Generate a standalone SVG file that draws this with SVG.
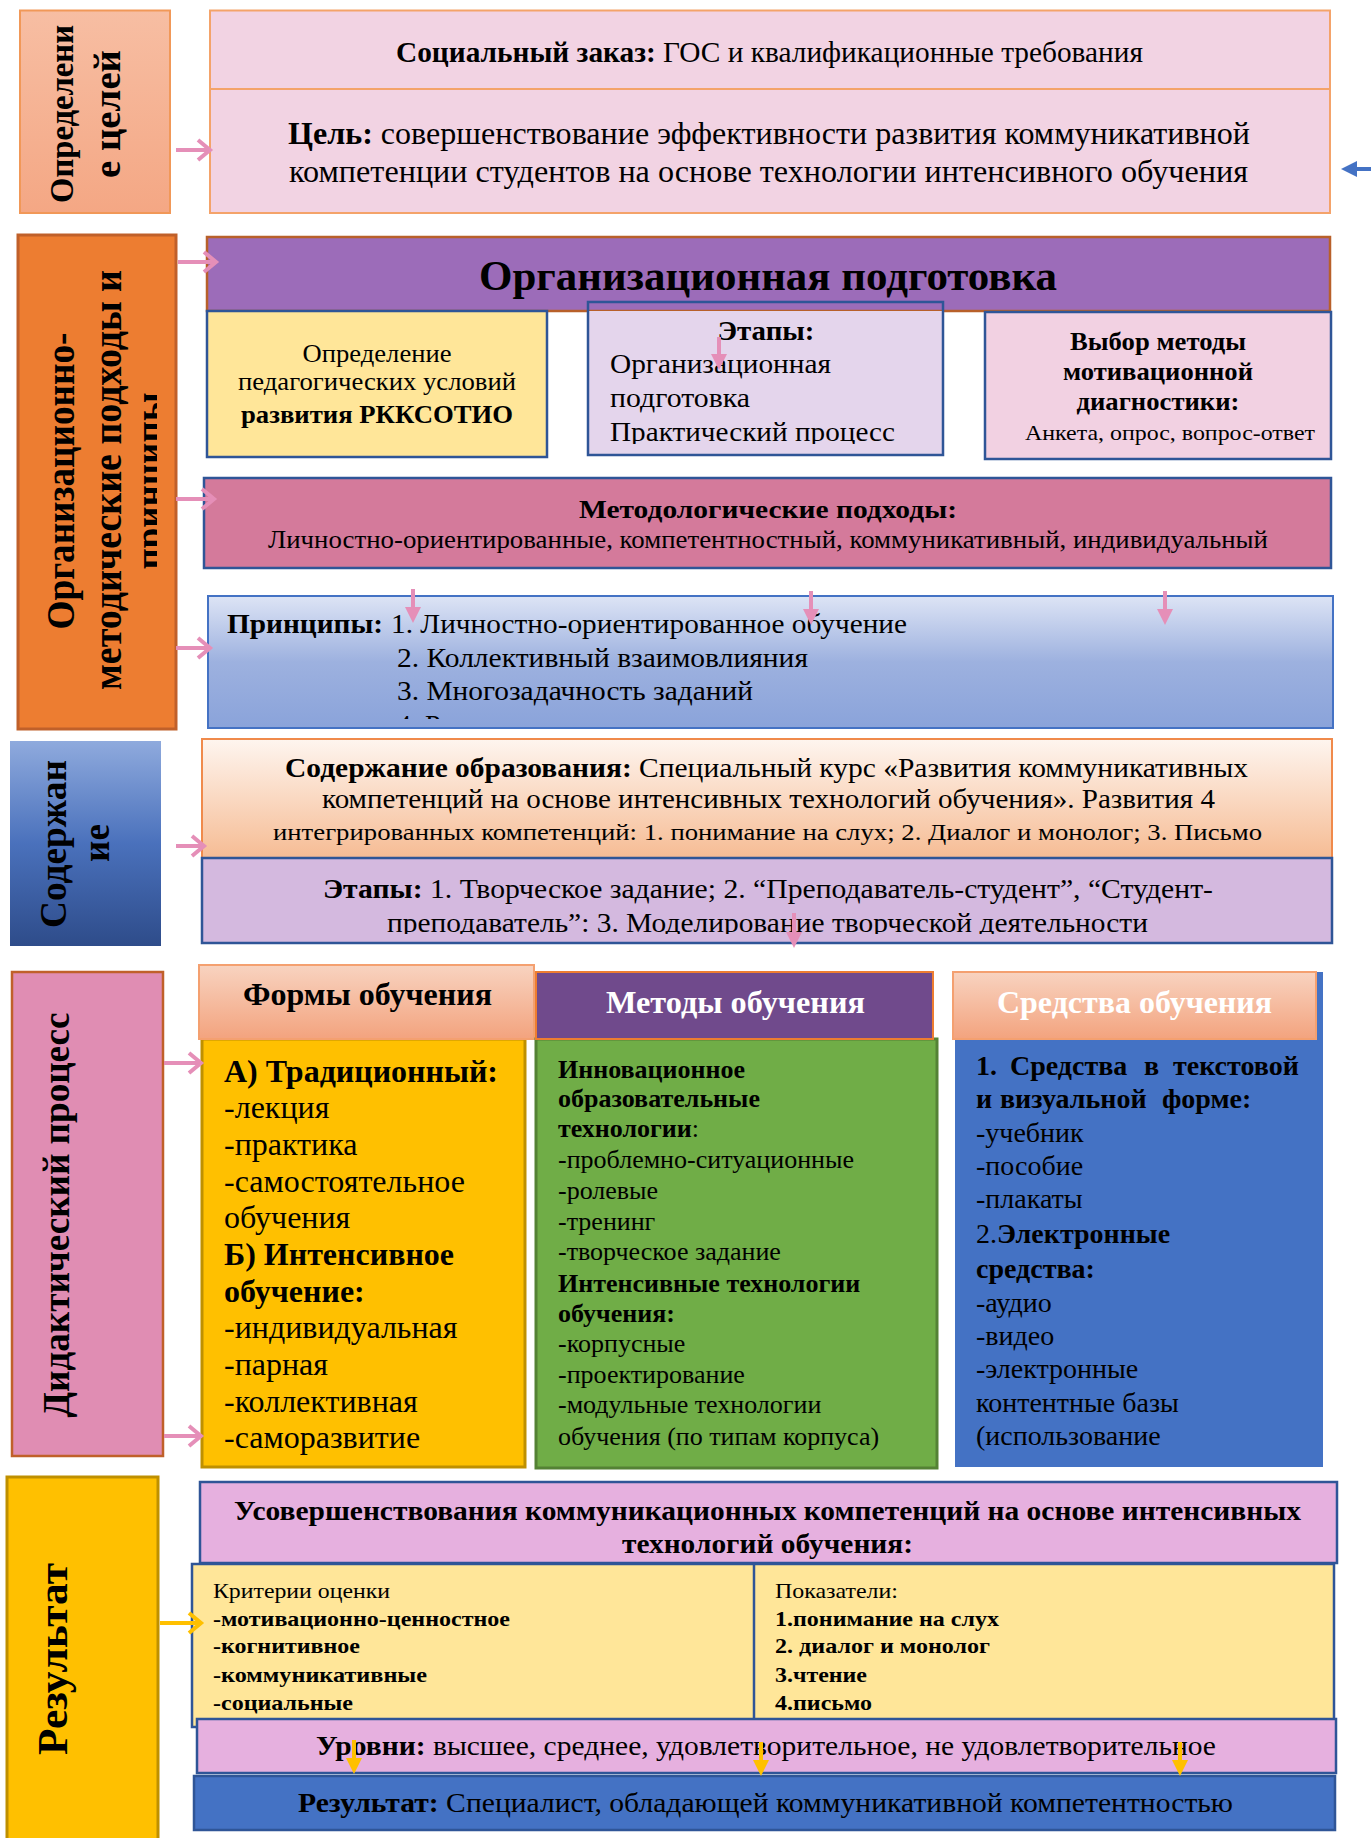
<svg xmlns="http://www.w3.org/2000/svg" width="1371" height="1838" viewBox="0 0 1371 1838">
<style>
text{font-family:"Liberation Serif","Times New Roman",serif;fill:#000}
.b{font-weight:bold}
.wt{fill:#fff}
.blu{stroke:#2F5597;stroke-width:2.5}
.cp{stroke:#E58FB8;stroke-width:4;fill:none}
.cy{stroke:#FFC000;stroke-width:4;fill:none}
.cb{stroke:#4472C4;stroke-width:4;fill:none}
</style>
<defs>
<linearGradient id="gSalmon" x1="0" y1="0" x2="0" y2="1"><stop offset="0" stop-color="#F7BEA3"/><stop offset="1" stop-color="#F4A784"/></linearGradient>
<linearGradient id="gPrin" x1="0" y1="0" x2="0" y2="1"><stop offset="0" stop-color="#DDE4F5"/><stop offset="0.5" stop-color="#9DB1DF"/><stop offset="1" stop-color="#8AA3DA"/></linearGradient>
<linearGradient id="gCont" x1="0" y1="0" x2="0" y2="1"><stop offset="0" stop-color="#FEF5EF"/><stop offset="1" stop-color="#F6BC94"/></linearGradient>
<linearGradient id="gBlueLbl" x1="0" y1="0" x2="0" y2="1"><stop offset="0" stop-color="#8FAADD"/><stop offset="0.5" stop-color="#4A71BC"/><stop offset="1" stop-color="#2E4C8A"/></linearGradient>
<linearGradient id="gHead" x1="0" y1="0" x2="0" y2="1"><stop offset="0" stop-color="#F8D3C0"/><stop offset="1" stop-color="#F3A37E"/></linearGradient>
<marker id="chevP" markerUnits="userSpaceOnUse" markerWidth="20" markerHeight="28" refX="14" refY="12" orient="auto"><path d="M2,2 L14,12 L2,22" fill="none" stroke="#E58FB8" stroke-width="4"/></marker>
<marker id="chevY" markerUnits="userSpaceOnUse" markerWidth="20" markerHeight="28" refX="14" refY="12" orient="auto"><path d="M2,2 L14,12 L2,22" fill="none" stroke="#FFC000" stroke-width="4"/></marker>
<marker id="triP" markerUnits="userSpaceOnUse" markerWidth="16" markerHeight="16" refX="2" refY="8" orient="auto"><path d="M0,0 L16,8 L0,16 Z" fill="#E58FB8"/></marker>
<marker id="triY" markerUnits="userSpaceOnUse" markerWidth="16" markerHeight="16" refX="2" refY="8" orient="auto"><path d="M0,0 L16,8 L0,16 Z" fill="#FFC000"/></marker>
<marker id="triB" markerUnits="userSpaceOnUse" markerWidth="16" markerHeight="16" refX="2" refY="8" orient="auto"><path d="M0,0 L16,8 L0,16 Z" fill="#4472C4"/></marker>
<clipPath id="clipOrg"><rect x="17" y="235" width="140" height="494"/></clipPath>
<clipPath id="clipEt"><rect x="588" y="302" width="355" height="142"/></clipPath>
<clipPath id="clipPrin"><rect x="208" y="596" width="1125" height="123"/></clipPath>
<clipPath id="clipEt2"><rect x="202" y="858" width="1130" height="76"/></clipPath>
</defs>

<!-- Row 1 -->
<g id="label-goals">
<rect x="20" y="10.5" width="150" height="202.5" fill="url(#gSalmon)" stroke="#F19858" stroke-width="2"/>
<text class="b" font-size="34" text-anchor="middle" transform="translate(73,114) rotate(-90)" textLength="178" lengthAdjust="spacingAndGlyphs">Определени</text>
<text class="b" font-size="38" text-anchor="middle" transform="translate(120,114) rotate(-90)" textLength="128" lengthAdjust="spacingAndGlyphs">е целей</text>
</g>
<g id="social-order">
<rect x="210" y="10.5" width="1120" height="78.5" fill="#F2D3E3" stroke="#F4A36A" stroke-width="2"/>
<text x="396" y="62" font-size="29" textLength="747" lengthAdjust="spacingAndGlyphs"><tspan class="b">Социальный заказ:</tspan> ГОС и квалификационные требования</text>
</g>
<g id="goal">
<rect x="210" y="89" width="1120" height="124" fill="#F2D3E3" stroke="#F4A36A" stroke-width="2"/>
<text x="288" y="144" font-size="31" textLength="962" lengthAdjust="spacingAndGlyphs"><tspan class="b">Цель:</tspan> совершенствование эффективности развития коммуникативной</text>
<text x="289" y="182" font-size="31" textLength="959" lengthAdjust="spacingAndGlyphs">компетенции студентов на основе технологии интенсивного обучения</text>
</g>

<!-- Row 2 -->
<g id="label-org">
<rect x="18" y="235" width="158" height="494" fill="#ED7D31" stroke="#C0602A" stroke-width="3"/>
<g clip-path="url(#clipOrg)">
<text class="b" font-size="40" text-anchor="middle" transform="translate(74,481) rotate(-90)" textLength="297" lengthAdjust="spacingAndGlyphs">Организационно-</text>
<text class="b" font-size="40" text-anchor="middle" transform="translate(121,480) rotate(-90)" textLength="420" lengthAdjust="spacingAndGlyphs">методические подходы и</text>
<text class="b" font-size="40" text-anchor="middle" transform="translate(163,481) rotate(-90)" textLength="177" lengthAdjust="spacingAndGlyphs">принципы</text>
</g>
</g>
<g id="org-prep">
<rect x="207" y="237" width="1123" height="74" fill="#9C6CB9" stroke="#B8602A" stroke-width="2.5"/>
<text x="479" y="290" class="b" font-size="42" textLength="578" lengthAdjust="spacingAndGlyphs">Организационная подготовка</text>
</g>
<g id="ped-conditions">
<rect x="207" y="311" width="340" height="146" fill="#FFE699" class="blu"/>
<text x="377" y="362" font-size="26" text-anchor="middle" textLength="149" lengthAdjust="spacingAndGlyphs">Определение</text>
<text x="377" y="390" font-size="26" text-anchor="middle" textLength="278" lengthAdjust="spacingAndGlyphs">педагогических условий</text>
<text x="377" y="423" font-size="26" class="b" text-anchor="middle" textLength="272" lengthAdjust="spacingAndGlyphs">развития РККСОТИО</text>
</g>
<g id="stages">
<rect x="588" y="311" width="355" height="144" fill="#E4D5EC"/>
<rect x="588" y="302" width="355" height="153" fill="none" class="blu"/>
<g clip-path="url(#clipEt)">
<text x="766" y="340" font-size="28" class="b" text-anchor="middle" textLength="97" lengthAdjust="spacingAndGlyphs">Этапы:</text>
<text x="610" y="373" font-size="28" textLength="221" lengthAdjust="spacingAndGlyphs">Организационная</text>
<text x="610" y="407" font-size="28" textLength="140" lengthAdjust="spacingAndGlyphs">подготовка</text>
<text x="610" y="441" font-size="28" textLength="285" lengthAdjust="spacingAndGlyphs">Практический процесс</text>
</g>
</g>
<g id="diagnostics">
<rect x="985" y="312" width="346" height="147" fill="#F2D1E2" class="blu"/>
<text x="1158" y="350" font-size="25" class="b" text-anchor="middle" textLength="176" lengthAdjust="spacingAndGlyphs">Выбор методы</text>
<text x="1158" y="380" font-size="25" class="b" text-anchor="middle" textLength="190" lengthAdjust="spacingAndGlyphs">мотивационной</text>
<text x="1158" y="410" font-size="25" class="b" text-anchor="middle" textLength="163" lengthAdjust="spacingAndGlyphs">диагностики:</text>
<text x="1170" y="440" font-size="22" text-anchor="middle" textLength="290" lengthAdjust="spacingAndGlyphs">Анкета, опрос, вопрос-ответ</text>
</g>
<g id="approaches">
<rect x="204" y="478" width="1127" height="90" fill="#D47A9B" class="blu"/>
<text x="768" y="518" font-size="26" class="b" text-anchor="middle" textLength="378" lengthAdjust="spacingAndGlyphs">Методологические подходы:</text>
<text x="768" y="548" font-size="25" text-anchor="middle" textLength="1000" lengthAdjust="spacingAndGlyphs">Личностно-ориентированные, компетентностный, коммуникативный, индивидуальный</text>
</g>
<g id="principles">
<rect x="208" y="596" width="1125" height="132" fill="url(#gPrin)" stroke="#4472C4" stroke-width="2"/>
<g clip-path="url(#clipPrin)">
<text x="227" y="633" font-size="28" class="b" textLength="156" lengthAdjust="spacingAndGlyphs">Принципы:</text>
<text x="391" y="633" font-size="28" textLength="516" lengthAdjust="spacingAndGlyphs">1. Личностно-ориентированное обучение</text>
<text x="397" y="667" font-size="28" textLength="411" lengthAdjust="spacingAndGlyphs">2. Коллективный взаимовлияния</text>
<text x="397" y="700" font-size="28" textLength="356" lengthAdjust="spacingAndGlyphs">3. Многозадачность заданий</text>
<text x="397" y="734" font-size="28">4. Р</text>
</g>
</g>

<!-- Row 3 -->
<g id="label-content">
<rect x="10" y="741" width="151" height="205" fill="url(#gBlueLbl)"/>
<text class="b" font-size="37" text-anchor="middle" transform="translate(66,844) rotate(-90)" textLength="168" lengthAdjust="spacingAndGlyphs">Содержан</text>
<text class="b" font-size="37" text-anchor="middle" transform="translate(109,843) rotate(-90)">ие</text>
</g>
<g id="edu-content">
<rect x="202" y="739" width="1130" height="119" fill="url(#gCont)" stroke="#F08A4B" stroke-width="2"/>
<text x="285" y="777" font-size="27" textLength="963" lengthAdjust="spacingAndGlyphs"><tspan class="b">Содержание образования:</tspan> Специальный курс «Развития коммуникативных</text>
<text x="322" y="808" font-size="27" textLength="893" lengthAdjust="spacingAndGlyphs">компетенций на основе интенсивных технологий обучения». Развития 4</text>
<text x="273" y="840" font-size="24" textLength="989" lengthAdjust="spacingAndGlyphs">интегрированных компетенций: 1. понимание на слух; 2. Диалог и монолог; 3. Письмо</text>
</g>
<g id="content-stages">
<rect x="202" y="858" width="1130" height="85" fill="#D4B9DF" class="blu"/>
<g clip-path="url(#clipEt2)">
<text x="323" y="898" font-size="27" textLength="890" lengthAdjust="spacingAndGlyphs"><tspan class="b">Этапы:</tspan> 1. Творческое задание; 2. “Преподаватель-студент”, “Студент-</text>
<text x="387" y="932" font-size="27" textLength="761" lengthAdjust="spacingAndGlyphs">преподаватель”: 3. Моделирование творческой деятельности</text>
</g>
</g>

<!-- Row 4 -->
<g id="label-didactic">
<rect x="12" y="972" width="151" height="484" fill="#E08DB3" stroke="#C0602A" stroke-width="2.5"/>
<text class="b" font-size="37" text-anchor="middle" transform="translate(69,1215) rotate(-90)" textLength="405" lengthAdjust="spacingAndGlyphs">Дидактический процесс</text>
</g>
<g id="forms">
<rect x="202" y="1039" width="323" height="428" fill="#FFC000" stroke="#BF9000" stroke-width="3"/>
<rect x="199" y="965" width="335" height="74" fill="url(#gHead)" stroke="#F4A070" stroke-width="2"/>
<text x="243" y="1005" font-size="31" class="b" textLength="249" lengthAdjust="spacingAndGlyphs">Формы обучения</text>
<g font-size="32">
<text x="224" y="1082" class="b" textLength="274" lengthAdjust="spacingAndGlyphs">А) Традиционный:</text>
<text x="224" y="1118">-лекция</text>
<text x="224" y="1155">-практика</text>
<text x="224" y="1192">-самостоятельное</text>
<text x="224" y="1228">обучения</text>
<text x="224" y="1265" class="b">Б) Интенсивное</text>
<text x="224" y="1302" class="b">обучение:</text>
<text x="224" y="1338">-индивидуальная</text>
<text x="224" y="1375">-парная</text>
<text x="224" y="1412">-коллективная</text>
<text x="224" y="1448">-саморазвитие</text>
</g>
</g>
<g id="methods">
<rect x="536" y="1039" width="401" height="429" fill="#70AD47" stroke="#548235" stroke-width="3"/>
<rect x="536" y="972" width="397" height="67" fill="#704A8C" stroke="#ED7D31" stroke-width="2"/>
<text x="606" y="1013" font-size="31" class="b wt" textLength="259" lengthAdjust="spacingAndGlyphs">Методы обучения</text>
<g font-size="26">
<text x="558" y="1078" class="b">Инновационное</text>
<text x="558" y="1107" class="b">образовательные</text>
<text x="558" y="1137"><tspan class="b">технологии</tspan>:</text>
<text x="558" y="1168">-проблемно-ситуационные</text>
<text x="558" y="1199">-ролевые</text>
<text x="558" y="1230">-тренинг</text>
<text x="558" y="1260">-творческое задание</text>
<text x="558" y="1292" class="b">Интенсивные технологии</text>
<text x="558" y="1322" class="b">обучения:</text>
<text x="558" y="1352">-корпусные</text>
<text x="558" y="1383">-проектирование</text>
<text x="558" y="1413">-модульные технологии</text>
<text x="558" y="1445">обучения (по типам корпуса)</text>
</g>
</g>
<g id="means">
<rect x="955" y="972" width="368" height="495" fill="#4472C4"/>
<rect x="953" y="972" width="363" height="67" fill="url(#gHead)" stroke="#F4A070" stroke-width="2"/>
<text x="997" y="1013" font-size="31" class="b wt" textLength="275" lengthAdjust="spacingAndGlyphs">Средства обучения</text>
<g font-size="28">
<text y="1075" class="b"><tspan x="976">1.</tspan><tspan x="1010">Средства</tspan><tspan x="1144">в</tspan><tspan x="1173">текстовой</tspan></text>
<text y="1108" class="b"><tspan x="976">и</tspan><tspan x="1000">визуальной</tspan><tspan x="1162">форме:</tspan></text>
<text x="976" y="1142">-учебник</text>
<text x="976" y="1175">-пособие</text>
<text x="976" y="1208">-плакаты</text>
<text x="976" y="1243">2.<tspan class="b">Электронные</tspan></text>
<text x="976" y="1278" class="b">средства:</text>
<text x="976" y="1312">-аудио</text>
<text x="976" y="1345">-видео</text>
<text x="976" y="1378">-электронные</text>
<text x="976" y="1412">контентные базы</text>
<text x="976" y="1445">(использование</text>
</g>
</g>

<!-- Row 5 -->
<g id="label-result">
<rect x="7" y="1477" width="151" height="366" fill="#FFC000" stroke="#BF9000" stroke-width="3"/>
<text class="b" font-size="42" text-anchor="middle" transform="translate(67,1659) rotate(-90)" textLength="192" lengthAdjust="spacingAndGlyphs">Результат</text>
</g>
<g id="improvement">
<rect x="200" y="1482" width="1137" height="81" fill="#E6B0DF" class="blu"/>
<text x="234" y="1520" font-size="27" class="b" textLength="1067" lengthAdjust="spacingAndGlyphs">Усовершенствования коммуникационных компетенций на основе интенсивных</text>
<text x="622" y="1553" font-size="27" class="b" textLength="291" lengthAdjust="spacingAndGlyphs">технологий обучения:</text>
</g>
<g id="criteria">
<rect x="192" y="1564" width="1142" height="163" fill="#FFE699" class="blu"/>
<line x1="754" y1="1564" x2="754" y2="1720" class="blu"/>
<g font-size="22">
<text x="213" y="1598" textLength="177" lengthAdjust="spacingAndGlyphs">Критерии оценки</text>
<text x="213" y="1626" class="b" textLength="297" lengthAdjust="spacingAndGlyphs">-мотивационно-ценностное</text>
<text x="213" y="1653" class="b" textLength="147" lengthAdjust="spacingAndGlyphs">-когнитивное</text>
<text x="213" y="1682" class="b" textLength="214" lengthAdjust="spacingAndGlyphs">-коммуникативные</text>
<text x="213" y="1710" class="b" textLength="140" lengthAdjust="spacingAndGlyphs">-социальные</text>
<text x="775" y="1598" textLength="123" lengthAdjust="spacingAndGlyphs">Показатели:</text>
<text x="775" y="1626" class="b" textLength="224" lengthAdjust="spacingAndGlyphs">1.понимание на слух</text>
<text x="775" y="1653" class="b" textLength="215" lengthAdjust="spacingAndGlyphs">2. диалог и монолог</text>
<text x="775" y="1682" class="b" textLength="92" lengthAdjust="spacingAndGlyphs">3.чтение</text>
<text x="775" y="1710" class="b" textLength="97" lengthAdjust="spacingAndGlyphs">4.письмо</text>
</g>
</g>
<g id="levels">
<rect x="197" y="1719" width="1139" height="54" fill="#E6B0DF" class="blu"/>
<text x="316" y="1755" font-size="27" textLength="900" lengthAdjust="spacingAndGlyphs"><tspan class="b">Уровни:</tspan> высшее, среднее, удовлетворительное, не удовлетворительное</text>
</g>
<g id="result">
<rect x="194" y="1776" width="1141" height="54" fill="#4472C4" class="blu"/>
<text x="298" y="1812" font-size="28" textLength="935" lengthAdjust="spacingAndGlyphs"><tspan class="b">Результат:</tspan> Специалист, обладающей коммуникативной компетентностью</text>
</g>

<g id="connectors">
<line x1="176" y1="150" x2="210" y2="150" class="cp" marker-end="url(#chevP)"/>
<line x1="1371" y1="169" x2="1355" y2="169" class="cb" marker-end="url(#triB)"/>
<line x1="178" y1="262" x2="216" y2="262" class="cp" marker-end="url(#chevP)"/>
<line x1="176" y1="499" x2="214" y2="499" class="cp" marker-end="url(#chevP)"/>
<line x1="176" y1="648" x2="210" y2="648" class="cp" marker-end="url(#chevP)"/>
<line x1="176" y1="846" x2="204" y2="846" class="cp" marker-end="url(#chevP)"/>
<line x1="719" y1="337" x2="719" y2="356" class="cp" marker-end="url(#triP)"/>
<line x1="413" y1="589" x2="413" y2="609" class="cp" marker-end="url(#triP)"/>
<line x1="811" y1="591" x2="811" y2="611" class="cp" marker-end="url(#triP)"/>
<line x1="1165" y1="591" x2="1165" y2="611" class="cp" marker-end="url(#triP)"/>
<line x1="794" y1="913" x2="794" y2="934" class="cp" marker-end="url(#triP)"/>
<line x1="164" y1="1063" x2="201" y2="1063" class="cp" marker-end="url(#chevP)"/>
<line x1="164" y1="1436" x2="201" y2="1436" class="cp" marker-end="url(#chevP)"/>
<line x1="160" y1="1623" x2="201" y2="1623" class="cy" marker-end="url(#chevY)"/>
<line x1="354" y1="1740" x2="354" y2="1760" class="cy" marker-end="url(#triY)"/>
<line x1="761" y1="1742" x2="761" y2="1762" class="cy" marker-end="url(#triY)"/>
<line x1="1180" y1="1742" x2="1180" y2="1762" class="cy" marker-end="url(#triY)"/>
</g>
</svg>
